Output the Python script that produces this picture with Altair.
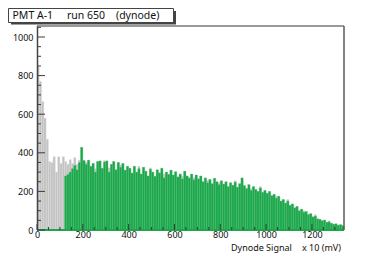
import altair as alt
import pandas as pd

# ---------------- data ----------------
BIN = 10
# gray (all events) histogram, bins 0..19 (0-200)
gray_low = [845, 770, 665, 580, 470, 355, 350, 380, 300, 380, 345, 380,
            355, 340, 365, 345, 375, 340, 362, 430]
# green (selected) histogram, starting at bin 12 (x = 120)
green_start_bin = 12
green = [280, 288, 300, 318, 335, 312, 350, 428,
         360, 340, 362, 330, 345, 300, 355, 358, 320, 352,
         358, 300, 340, 355, 312, 350, 325, 345, 310, 330,
         320, 295, 330, 300, 318, 290, 325, 305, 280, 315,
         300, 278, 312, 296, 320, 270, 300, 288, 310, 285,
         302, 275, 290, 265, 305, 280, 270, 290, 260, 285,
         265, 280, 250, 270, 245, 262, 240, 268, 250, 235,
         255, 238, 250, 225, 245, 232, 248, 222, 240, 270,
         230, 215, 235, 205, 225, 210, 200, 218, 195, 205,
         190, 200, 178, 185, 165, 175, 150, 158, 140, 150,
         128, 135, 115, 122, 100, 108, 92, 96, 80, 85,
         68, 72, 58, 55, 48, 52, 40, 42, 35, 30,
         32, 25, 28, 22]
# bins (>=20) where the gray histogram pokes above the green one
gray_above = {21: 352, 25: 318, 29: 360, 31: 322, 36: 338, 44: 330, 49: 322,
              55: 290, 63: 280, 68: 272, 74: 258, 79: 246, 86: 256, 93: 215,
              97: 226, 104: 175, 109: 158, 116: 100, 121: 80, 127: 48}

x_major = [0, 200, 400, 600, 800, 1000, 1200]
y_major = [0, 200, 400, 600, 800, 1000]
x_minor = [v for v in range(0, 1340, 50) if v % 200]
y_minor = [v for v in range(0, 1057, 50) if v % 200]

XMAX, YMAX = 1340, 1057
W, H = 307, 204

# ---------------- tables ----------------
n_bins = green_start_bin + len(green)
gray_rows = []
for i in range(n_bins):
    if i < len(gray_low):
        g = gray_low[i]
    else:
        g = max(green[i - green_start_bin], gray_above.get(i, 0))
    gray_rows.append({"x0": i * BIN, "x1": i * BIN + BIN, "v": g})
gray_df = pd.DataFrame(gray_rows)
green_df = pd.DataFrame([
    {"x0": (green_start_bin + k) * BIN, "x1": (green_start_bin + k + 1) * BIN, "v": v}
    for k, v in enumerate(green)
])

FONT = "Noto Sans"
xs = alt.Scale(domain=[0, XMAX], nice=False, zero=False)
ys = alt.Scale(domain=[0, YMAX], nice=False, zero=False)
xaxis = alt.Axis(values=x_major, title=None, ticks=False, domain=False, grid=False,
                 format="d", labelFont=FONT, labelFontSize=9, labelColor="#111",
                 labelPadding=0, labelFlush=False)
yaxis = alt.Axis(values=y_major, title=None, ticks=False, domain=False, grid=False,
                 format="d", labelFont=FONT, labelFontSize=9, labelColor="#111",
                 labelPadding=4)


def X(f):
    return alt.X(f, type="quantitative", scale=xs, axis=xaxis)


def Y(f):
    return alt.Y(f, type="quantitative", scale=ys, axis=yaxis)


gray_bars = alt.Chart(gray_df).mark_rect(color="#c3c3c3", stroke="#e2e2e2",
                                         strokeWidth=0.3).encode(
    x=X("x0"), x2="x1", y=Y("v"), y2=alt.datum(0))
green_bars = alt.Chart(green_df).mark_rect(color="#1aa84a", stroke="#5cc27e",
                                           strokeWidth=0.3).encode(
    x=X("x0"), x2="x1", y=Y("v"), y2=alt.datum(0))

one = pd.DataFrame({"a": [0]})
base_line = alt.Chart(one).mark_rule(color="#1aa84a", strokeWidth=2).encode(
    x=alt.value(0), x2=alt.value(W), y=alt.value(H))

ymaj_df = pd.DataFrame({"v": y_major})
ymin_df = pd.DataFrame({"v": y_minor})
xmaj_df = pd.DataFrame({"v": x_major})
xmin_df = pd.DataFrame({"v": x_minor})
tick_col = "#3a3a3a"
y_major_ticks = alt.Chart(ymaj_df).mark_rule(color=tick_col, strokeWidth=1).encode(
    y=Y("v"), x=alt.value(0), x2=alt.value(8))
y_minor_ticks = alt.Chart(ymin_df).mark_rule(color=tick_col, strokeWidth=1).encode(
    y=Y("v"), x=alt.value(0), x2=alt.value(4))
x_major_ticks = alt.Chart(xmaj_df).mark_rule(color=tick_col, strokeWidth=1).encode(
    x=X("v"), y=alt.value(H), y2=alt.value(H - 6))
x_minor_ticks = alt.Chart(xmin_df).mark_rule(color=tick_col, strokeWidth=1).encode(
    x=X("v"), y=alt.value(H), y2=alt.value(H - 3))

frame_col = "#5a5a5a"
frame_left = alt.Chart(one).mark_rule(color="#444", strokeWidth=1.5).encode(
    x=alt.value(0.5), y=alt.value(0), y2=alt.value(H))
frame_top = alt.Chart(one).mark_rule(color="#777", strokeWidth=1.5).encode(
    x=alt.value(0), x2=alt.value(W), y=alt.value(0))
frame_right = alt.Chart(one).mark_rule(color=frame_col, strokeWidth=1.5).encode(
    x=alt.value(W), y=alt.value(0), y2=alt.value(H))

# title box (pixel placement relative to the plot area)
box_shadow = alt.Chart(one).mark_rect(color="#444").encode(
    x=alt.value(-26), x2=alt.value(139), y=alt.value(-15), y2=alt.value(-1.5))
box = alt.Chart(one).mark_rect(fill="#ffffff", stroke="#444", strokeWidth=1).encode(
    x=alt.value(-28.5), x2=alt.value(136.5), y=alt.value(-17.5), y2=alt.value(-3.5))
title_parts = pd.DataFrame({"t": ["PMT A-1", "run 650", "(dynode)"],
                            "px": [-24.5, 30, 79]})
title_txt = alt.Chart(title_parts).mark_text(align="left", baseline="middle",
                                             font=FONT, fontSize=10.5,
                                             color="#111").encode(
    x=alt.X("px:Q", scale=None), y=alt.value(-10.2), text="t:N")

axis_titles = pd.DataFrame({"t": ["Dynode Signal", "x 10 (mV)"], "px": [194, 265]})
axis_txt = alt.Chart(axis_titles).mark_text(align="left", baseline="middle",
                                            font=FONT, fontSize=9,
                                            color="#111").encode(
    x=alt.X("px:Q", scale=None), y=alt.value(H + 17.5), text="t:N")

chart = alt.layer(
    gray_bars, green_bars, base_line,
    x_minor_ticks, x_major_ticks, y_minor_ticks, y_major_ticks,
    frame_left, frame_top, frame_right,
    box_shadow, box, title_txt, axis_txt,
).properties(
    width=W, height=H,
    padding={"left": 29, "top": 18, "right": 30, "bottom": 24},
    autosize=alt.AutoSizeParams(type="none"),
).configure_view(stroke=None)

chart.save("out.html", embed_options={"renderer": "svg", "actions": False})
